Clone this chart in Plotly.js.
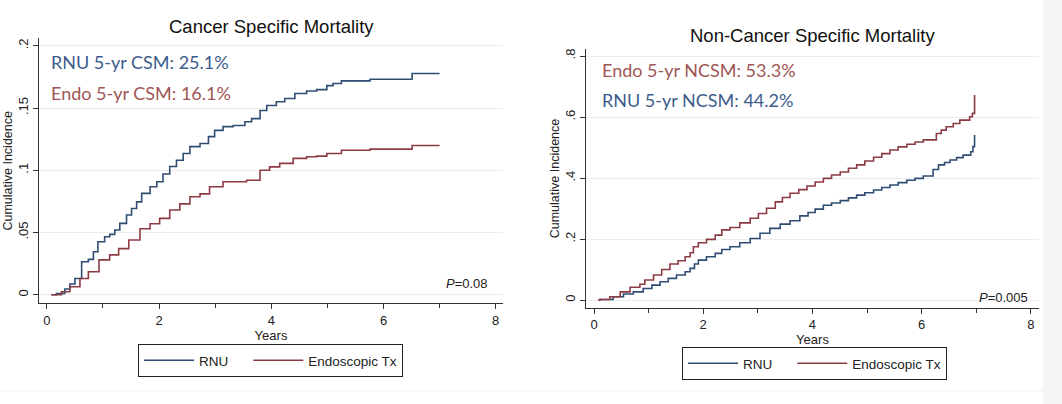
<!DOCTYPE html>
<html><head><meta charset="utf-8">
<script src="https://cdn.plot.ly/plotly-3.0.1.min.js"></script>
<style>html,body{margin:0;padding:0;background:#fff;overflow:hidden}</style>
</head><body><div id="chart" style="width:1062px;height:404px"></div>
<script>
// ---- Data ----
const csmRnuYears = [0.08,0.17,0.32,0.41,0.50,0.62,0.74,0.83,0.91,1.03,1.12,1.21,1.30,1.42,1.51,1.60,1.69,1.84,1.96,2.07,2.19,2.31,2.43,2.55,2.73,2.88,2.99,3.14,3.32,3.53,3.65,3.80,3.92,4.09,4.24,4.42,4.63,4.81,4.99,5.10,5.25,5.76,6.51,7.0];
const csmRnuInc = [0,0.001,0.0046,0.0086,0.013,0.0265,0.0284,0.0345,0.0425,0.0466,0.0485,0.052,0.0573,0.064,0.0693,0.0746,0.0814,0.0867,0.0907,0.097,0.103,0.108,0.1135,0.119,0.1215,0.127,0.132,0.135,0.136,0.139,0.1415,0.148,0.152,0.155,0.1576,0.1616,0.1637,0.1648,0.168,0.1697,0.1718,0.1731,0.1777,0.1777];
const csmEndoYears = [0.08,0.26,0.41,0.59,0.74,0.93,1.12,1.28,1.46,1.66,1.84,2.01,2.19,2.37,2.55,2.73,2.90,3.14,3.56,3.80,3.97,4.15,4.39,4.63,4.81,4.99,5.25,5.76,6.51,7.0];
const csmEndoInc = [0,0.0024,0.0064,0.013,0.0185,0.028,0.032,0.037,0.044,0.053,0.057,0.0613,0.068,0.073,0.0787,0.081,0.0867,0.0907,0.092,0.100,0.1027,0.1055,0.1095,0.1108,0.1113,0.1135,0.1161,0.117,0.1199,0.1199];

const ncsmRnuYears = [0.08,0.11,0.35,0.54,0.72,0.90,1.06,1.21,1.36,1.51,1.67,1.76,1.84,1.91,2.06,2.22,2.34,2.49,2.67,2.86,3.04,3.22,3.41,3.59,3.77,3.92,4.05,4.20,4.35,4.51,4.66,4.81,4.96,5.12,5.27,5.42,5.57,5.73,5.88,6.03,6.21,6.31,6.42,6.52,6.64,6.76,6.90,6.94,6.97];
const ncsmRnuInc = [0,0.002,0.011,0.02,0.027,0.038,0.049,0.06,0.071,0.082,0.093,0.104,0.118,0.131,0.142,0.153,0.166,0.175,0.188,0.202,0.219,0.235,0.249,0.26,0.276,0.287,0.298,0.311,0.318,0.326,0.335,0.344,0.352,0.361,0.369,0.377,0.385,0.393,0.399,0.4066,0.428,0.443,0.451,0.459,0.467,0.475,0.486,0.503,0.541];
const ncsmEndoYears = [0.08,0.11,0.29,0.48,0.66,0.84,0.93,1.09,1.24,1.39,1.54,1.67,1.76,1.82,1.91,2.06,2.22,2.34,2.49,2.67,2.86,3.01,3.16,3.32,3.45,3.59,3.75,3.90,4.05,4.20,4.35,4.51,4.66,4.81,4.96,5.12,5.27,5.42,5.57,5.73,5.88,6.03,6.27,6.36,6.45,6.58,6.70,6.88,6.93,6.97,6.97];
const ncsmEndoInc = [0,0.002,0.011,0.027,0.042,0.052,0.066,0.082,0.1,0.118,0.129,0.142,0.155,0.175,0.188,0.199,0.213,0.23,0.238,0.253,0.268,0.284,0.301,0.322,0.336,0.35,0.362,0.374,0.387,0.399,0.41,0.42,0.432,0.443,0.456,0.468,0.48,0.492,0.502,0.511,0.518,0.525,0.546,0.557,0.568,0.579,0.59,0.601,0.612,0.628,0.672];

const seriesNames = ['RNU', 'Endoscopic Tx'];
const xTickVals = [0, 2, 4, 6, 8];
const csmTickVals = [0, 0.05, 0.1, 0.15, 0.2];
const csmTickText = ['0', '.05', '.1', '.15', '.2'];
const ncsmTickVals = [0, 0.2, 0.4, 0.6, 0.8];
const ncsmTickText = ['0', '.2', '.4', '.6', '.8'];
const panelTitles = ['Cancer Specific Mortality', 'Non-Cancer Specific Mortality'];
const csmNotes = ['RNU 5-yr CSM: 25.1%', 'Endo 5-yr CSM: 16.1%'];
const ncsmNotes = ['Endo 5-yr NCSM: 53.3%', 'RNU 5-yr NCSM: 44.2%'];
const pValues = ['0.08', '0.005'];

// ---- Styling ----
const W = 1062, H = 404;
const px = v => v / W, py = v => 1 - v / H;
const BLUE = '#2f4d73', RED = '#8c3b42';
const TBLUE = '#3d5c8c', TRED = '#a05656';
const SANS = 'Liberation Sans, Arial, sans-serif';
const axisFont = {family: SANS, size: 13, color: '#222'};
const PAD = '\u00a0\u00a0\u00a0\u00a0'; // spacing after first legend entry

function line(x, y, name, color, xa, ya, legend) {
  return {x, y, name, type: 'scatter', mode: 'lines', line: {shape: 'hv', color, width: 1.6},
    xaxis: xa, yaxis: ya, legend, showlegend: true, hoverinfo: 'skip'};
}
const data = [
  line(csmRnuYears, csmRnuInc, seriesNames[0] + PAD, BLUE, 'x', 'y', 'legend'),
  line(csmEndoYears, csmEndoInc, seriesNames[1], RED, 'x', 'y', 'legend'),
  line(ncsmRnuYears, ncsmRnuInc, seriesNames[0] + PAD, BLUE, 'x2', 'y2', 'legend2'),
  line(ncsmEndoYears, ncsmEndoInc, seriesNames[1], RED, 'x2', 'y2', 'legend2')
];

function xAxis(domain, range, anchor) {
  return {domain, range, anchor, tickvals: xTickVals, ticks: 'outside', ticklen: 5, tickcolor: '#333',
    showline: true, linecolor: '#333', linewidth: 1, showgrid: false, zeroline: false,
    tickfont: axisFont, fixedrange: true,
    minor: {dtick: 1, tick0: 0, ticks: 'outside', ticklen: 4, tickcolor: '#333', showgrid: false},
    title: {text: 'Years', font: axisFont, standoff: 0}};
}
function yAxis(domain, range, anchor, vals, text) {
  return {domain, range, anchor, tickvals: vals, ticktext: text, tickangle: -90,
    ticks: 'outside', ticklen: 5, tickcolor: '#333',
    showline: true, linecolor: '#333', linewidth: 1, showgrid: true, gridcolor: '#ececec', gridwidth: 1,
    zeroline: false, tickfont: axisFont, fixedrange: true,
    title: {text: 'Cumulative Incidence', font: {family: SANS, size: 12.5, color: '#222'}, standoff: 0}};
}

const legendBase = {orientation: 'h', xanchor: 'left', yanchor: 'top', bordercolor: '#222', borderwidth: 1,
  bgcolor: '#fff', font: {family: SANS, size: 13.5, color: '#222'},
  itemwidth: 50, tracegroupgap: 0};

const noteFont = (c) => ({family: 'Lato, Open Sans, sans-serif', size: 18, color: c});
const titleFont = {family: SANS, size: 18.5, color: '#111'};
const annotations = [
  {text: panelTitles[0], x: px(271), y: py(26), xref: 'paper', yref: 'paper', showarrow: false,
    xanchor: 'center', yanchor: 'middle', font: titleFont},
  {text: panelTitles[1], x: px(812), y: py(36), xref: 'paper', yref: 'paper', showarrow: false,
    xanchor: 'center', yanchor: 'middle', font: titleFont},
  {text: csmNotes[0], x: px(49), y: py(62), xref: 'paper', yref: 'paper', showarrow: false, xanchor: 'left', yanchor: 'middle', font: noteFont(TBLUE)},
  {text: csmNotes[1], x: px(49), y: py(93), xref: 'paper', yref: 'paper', showarrow: false, xanchor: 'left', yanchor: 'middle', font: noteFont(TRED)},
  {text: ncsmNotes[0], x: px(600), y: py(70), xref: 'paper', yref: 'paper', showarrow: false, xanchor: 'left', yanchor: 'middle', font: noteFont(TRED)},
  {text: ncsmNotes[1], x: px(600), y: py(100), xref: 'paper', yref: 'paper', showarrow: false, xanchor: 'left', yanchor: 'middle', font: noteFont(TBLUE)},
  {text: '<i>P</i>=' + pValues[0], x: px(490), y: py(283), xref: 'paper', yref: 'paper', showarrow: false, xanchor: 'right', yanchor: 'middle', font: axisFont},
  {text: '<i>P</i>=' + pValues[1], x: px(1030), y: py(297), xref: 'paper', yref: 'paper', showarrow: false, xanchor: 'right', yanchor: 'middle', font: axisFont}
];

const layout = {
  width: W, height: H, margin: {l: 0, r: 0, t: 0, b: 0}, paper_bgcolor: '#fff', plot_bgcolor: '#fff',
  xaxis: xAxis([px(39), px(503)], [-0.14, 8.13], 'y'),
  yaxis: yAxis([1 - 303.3 / H, 1 - 38.3 / H], [-0.0069, 0.206], 'x', csmTickVals, csmTickText),
  xaxis2: xAxis([px(586), px(1039)], [-0.147, 8.15], 'y2'),
  yaxis2: yAxis([1 - 307.7 / H, 1 - 49.3 / H], [-0.025, 0.822], 'x2', ncsmTickVals, ncsmTickText),
  legend: Object.assign({}, legendBase, {x: px(138), y: py(344)}),
  legend2: Object.assign({}, legendBase, {x: px(682), y: py(347)}),
  annotations,
  shapes: [
    {type: 'line', xref: 'paper', yref: 'paper', x0: 0, x1: 1, y0: py(391), y1: py(391), line: {color: '#f1f1f1', width: 1}, layer: 'below'},
    {type: 'rect', xref: 'paper', yref: 'paper', x0: px(1043), x1: 1, y0: 0, y1: 1, fillcolor: '#f5f5f5', line: {width: 0}, layer: 'below'}
  ]
};
Plotly.newPlot('chart', data, layout, {staticPlot: true, displayModeBar: false});
</script>
</body></html>
